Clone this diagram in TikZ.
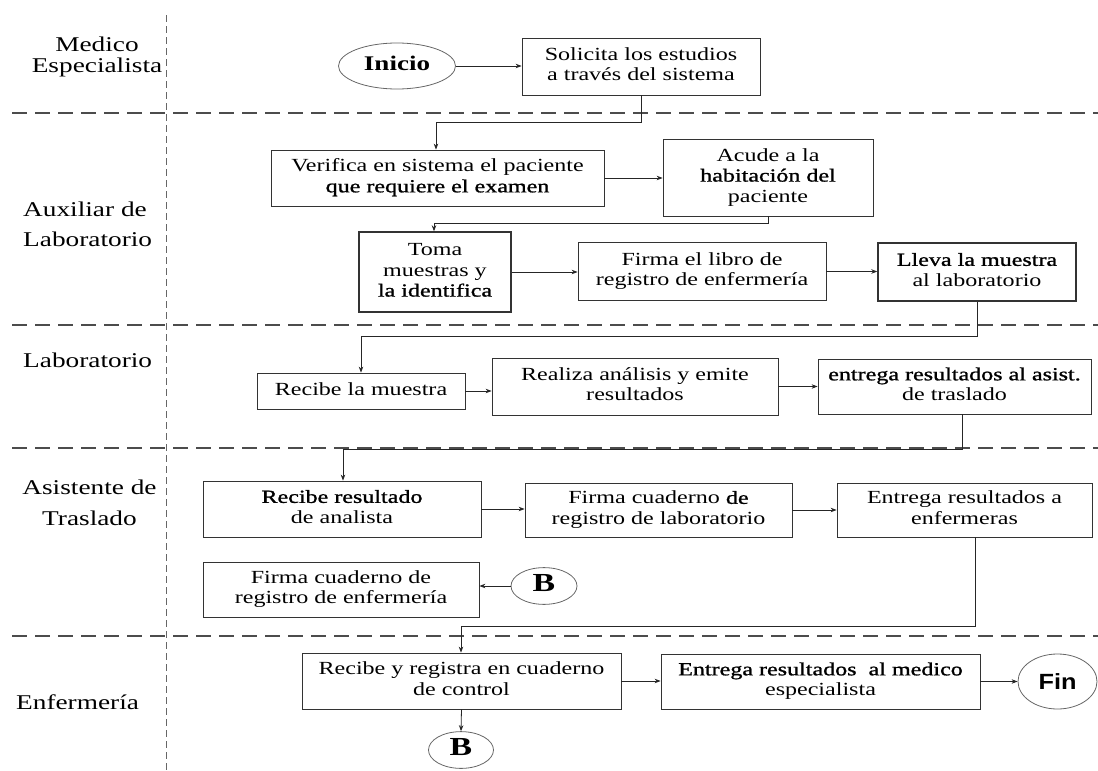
\documentclass[tikz,border=0pt]{standalone}
\usepackage{fontspec}
\usepackage{graphicx}
\setmainfont{Liberation Serif}
\newfontfamily\semib{Liberation Serif}[FakeBold=1]
\newfontfamily\finfont{Liberation Sans}
\usetikzlibrary{arrows.meta,shapes.geometric}

% wide, centred (or left-aligned) text block
\newcommand{\tx}[1]{\scalebox{1.3}[1]{\begin{tabular}{@{}c@{}}#1\end{tabular}}}
\newcommand{\txl}[1]{\scalebox{1.3}[1]{\begin{tabular}{@{}l@{}}#1\end{tabular}}}
% heavier line inside a box
\newcommand{\hv}[1]{{\semib #1}}

\tikzset{
  box/.style={draw=black!80, line width=0.8pt, inner sep=0pt,
    font=\fontsize{18.5}{20.5}\selectfont},
  thickbox/.style={box, line width=1.4pt},
  oval/.style={ellipse, draw=black!60, line width=0.8pt, inner sep=0pt},
  lane/.style={inner sep=0pt, font=\fontsize{21}{21}\selectfont},
  arr/.style={draw=black!85, line width=0.8pt, -{Stealth[length=6pt,width=4.5pt]}},
  lanesep/.style={draw=black!70, line width=1.4pt, dash pattern=on 15pt off 8pt},
  colsep/.style={draw=black!60, line width=0.8pt, dash pattern=on 7pt off 4pt}
}

\begin{document}
\begin{tikzpicture}[x=1pt,y=-1pt]
\useasboundingbox (0,0) rectangle (1098,771);

% lane separators
\draw[colsep] (166,15) -- (166,771);
\foreach \yy in {113,325,448,636}
  \draw[lanesep] (12,\yy) -- (1098,\yy);

% lane titles
\node[lane] (lmed) at (97,57.5) {\tx{Medico\\Especialista}};
\node[lane, anchor=west, font=\fontsize{21}{30}\selectfont] (laux) at (23,225) {\txl{Auxiliar de\\Laboratorio}};
\node[lane, anchor=west] (llab) at (23,363) {\tx{Laboratorio}};
\node[lane, font=\fontsize{21}{31}\selectfont] (lasi) at (89.5,504) {\tx{Asistente de\\Traslado}};
\node[lane, anchor=west] (lenf) at (16,705) {\tx{Enfermería}};

% Medico especialista
\node[oval, minimum width=117pt, minimum height=46pt, font=\fontsize{20.8}{21}\selectfont\bfseries] (inicio) at (397,66) {\tx{Inicio}};
\node[box, minimum width=238pt, minimum height=57pt] (solicita) at (641,66.5) {\tx{Solicita los estudios\\a través del sistema}};

% Auxiliar de laboratorio
\node[box, minimum width=333pt, minimum height=56pt] (verifica) at (437.5,178) {\tx{Verifica en sistema el paciente\\\hv{que requiere el examen}}};
\node[box, minimum width=210pt, minimum height=77pt] (acude) at (768,177.5) {\tx{Acude a la\\\hv{habitación del}\\paciente}};
\node[thickbox, minimum width=152pt, minimum height=80pt] (toma) at (435,272) {\tx{Toma\\muestras y\\\hv{la identifica}}};
\node[box, minimum width=248pt, minimum height=58pt] (firmalibro) at (702,271.5) {\tx{Firma el libro de\\registro de enfermería}};
\node[thickbox, minimum width=198pt, minimum height=58pt] (lleva) at (977,272) {\tx{\hv{Lleva la muestra}\\al laboratorio}};

% Laboratorio
\node[box, minimum width=208pt, minimum height=36pt] (recibemuestra) at (361,391) {\tx{Recibe la muestra}};
\node[box, minimum width=286pt, minimum height=57pt] (realiza) at (635,386.5) {\tx{Realiza análisis y emite\\resultados}};
\node[box, minimum width=273pt, minimum height=55pt] (entregaasist) at (954.5,386.5) {\tx{\hv{entrega resultados al asist.}\\de traslado}};

% Asistente de traslado
\node[box, minimum width=278pt, minimum height=56pt] (reciberes) at (342,509) {\tx{\hv{Recibe resultado}\\de analista}};
\node[box, minimum width=267pt, minimum height=54pt] (firmalab) at (658.5,510) {\tx{Firma cuaderno \hv{de}\\registro de laboratorio}};
\node[box, minimum width=255pt, minimum height=54pt] (entregaenf) at (964.5,510) {\tx{Entrega resultados a\\enfermeras}};
\node[box, minimum width=276pt, minimum height=55pt] (firmaenf) at (341,589.5) {\tx{Firma cuaderno de\\registro de enfermería}};
\node[oval, minimum width=66pt, minimum height=28pt, font=\fontsize{26}{26}\selectfont\bfseries] (bin) at (544,586) {\tx{B}};

% Enfermeria
\node[box, minimum width=319pt, minimum height=56pt] (recibereg) at (461.5,681) {\tx{Recibe y registra en cuaderno\\de control}};
\node[box, minimum width=319pt, minimum height=55pt] (entregamed) at (820.5,681.5) {\tx{\hv{Entrega resultados\ \ al medico}\\especialista}};
\node[oval, minimum width=79pt, minimum height=55pt, font=\finfont\fontsize{22}{22}\selectfont\bfseries] (fin) at (1057.5,681.5) {\scalebox{1.15}[1]{Fin}};
\node[oval, minimum width=65pt, minimum height=28pt, font=\fontsize{26}{26}\selectfont\bfseries] (bout) at (461,750) {\tx{B}};

% bend points of the routed connectors
\coordinate (k1) at (436,122);
\coordinate (k2) at (434,223);
\coordinate (k3) at (361,336);
\coordinate (k4) at (343,449);
\coordinate (k5) at (461,626);

% connectors
\draw[arr] (inicio.east) -- (inicio.east -| solicita.west);
\draw[arr] (solicita.south) |- (k1) -- (k1 |- verifica.north);
\draw[arr] (verifica.east) -- (verifica.east -| acude.west);
\draw[arr] (acude.south) |- (k2) -- (k2 |- toma.north);
\draw[arr] (toma.east) -- (toma.east -| firmalibro.west);
\draw[arr] (firmalibro.east) -- (firmalibro.east -| lleva.west);
\draw[arr] (lleva.south) |- (k3) -- (k3 |- recibemuestra.north);
\draw[arr] (recibemuestra.east) -- (recibemuestra.east -| realiza.west);
\draw[arr] (realiza.east) -- (realiza.east -| entregaasist.west);
\draw[arr] ([xshift=7.5pt]entregaasist.south) |- (k4) -- (k4 |- reciberes.north);
\draw[arr] (reciberes.east) -- (reciberes.east -| firmalab.west);
\draw[arr] (firmalab.east) -- (firmalab.east -| entregaenf.west);
\draw[arr] ([xshift=10.5pt]entregaenf.south) |- (k5) -- (k5 |- recibereg.north);
\draw[arr] (bin.west) -- (bin.west -| firmaenf.east);
\draw[arr] (recibereg.south) -- (bout.north);
\draw[arr] (recibereg.east) -- (recibereg.east -| entregamed.west);
\draw[arr] (entregamed.east) -- (entregamed.east -| fin.west);
\end{tikzpicture}
\end{document}
